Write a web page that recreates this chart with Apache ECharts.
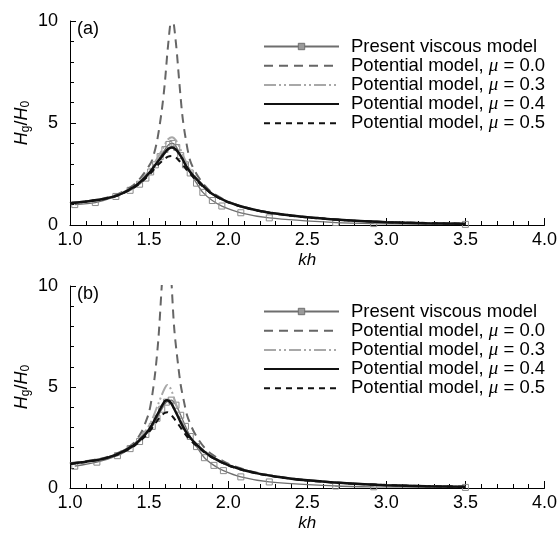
<!DOCTYPE html>
<html>
<head>
<meta charset="utf-8">
<script src="https://cdn.jsdelivr.net/npm/echarts@6/dist/echarts.min.js"></script>
<style>html,body{margin:0;padding:0;background:#fff;}#c{width:560px;height:533px;}</style>
</head>
<body>
<div id="c"></div>
<script>
// ---------- data ----------
var xTicks = [1.0, 1.5, 2.0, 2.5, 3.0, 3.5, 4.0];
var yTicks = [0, 5, 10];
var seriesNames = ['Present viscous model', 'Potential model, μ = 0.0', 'Potential model, μ = 0.3', 'Potential model, μ = 0.4', 'Potential model, μ = 0.5'];

// Panel (a)
var khA = [1.0,1.1,1.2,1.3,1.4,1.45,1.5,1.52,1.55,1.58,1.6,1.62,1.645,1.67,1.69,1.71,1.73,1.76,1.8,1.85,1.9,2.0,2.1,2.2,2.3,2.4,2.5,2.75,3.0,3.25,3.5];
var a_mu00 = [1.08,1.16,1.28,1.5,1.95,2.35,2.9,3.2,4.1,5.6,7.0,8.8,10.3,8.9,7.1,5.4,4.3,3.15,2.5,1.95,1.58,1.15,0.88,0.7,0.57,0.47,0.39,0.24,0.15,0.1,0.06];
var a_mu03 = [1.07,1.15,1.27,1.47,1.88,2.2,2.65,2.85,3.25,3.65,3.95,4.2,4.3,4.15,3.85,3.5,3.15,2.7,2.3,1.88,1.53,1.12,0.87,0.69,0.56,0.46,0.38,0.23,0.14,0.09,0.06];
var a_mu04 = [1.06,1.15,1.26,1.45,1.85,2.15,2.55,2.75,3.05,3.35,3.55,3.72,3.8,3.7,3.5,3.25,2.95,2.6,2.25,1.85,1.52,1.12,0.87,0.69,0.56,0.46,0.38,0.23,0.14,0.09,0.06];
var a_mu05 = [1.05,1.14,1.25,1.44,1.82,2.1,2.45,2.62,2.9,3.12,3.25,3.35,3.38,3.3,3.15,2.98,2.78,2.5,2.18,1.82,1.5,1.11,0.86,0.68,0.55,0.45,0.37,0.23,0.14,0.09,0.06];
var khA_visc = [1.03,1.16,1.29,1.38,1.44,1.48,1.51,1.54,1.57,1.6,1.625,1.65,1.675,1.7,1.73,1.76,1.8,1.84,1.9,1.96,2.08,2.26,2.68,2.92,3.5];
var a_visc = [1.0,1.1,1.4,1.7,2.0,2.3,2.6,2.95,3.35,3.7,3.95,4.0,3.8,3.4,2.95,2.55,2.05,1.6,1.2,0.93,0.6,0.35,0.12,0.07,0.03];

// Panel (b)
var khB = [1.0,1.1,1.2,1.3,1.4,1.45,1.48,1.5,1.52,1.54,1.56,1.58,1.6,1.615,1.63,1.643,1.66,1.685,1.7,1.72,1.74,1.77,1.8,1.85,1.9,2.0,2.1,2.2,2.3,2.4,2.5,2.75,3.0,3.25,3.5];
var b_mu00 = [1.23,1.33,1.46,1.72,2.2,2.75,3.3,3.75,4.6,5.8,7.5,10.0,12.5,13.0,12.0,10.0,7.8,6.0,5.1,4.3,3.6,3.0,2.55,2.0,1.65,1.2,0.92,0.72,0.58,0.47,0.39,0.24,0.15,0.1,0.06];
var b_mu03 = [1.21,1.31,1.44,1.7,2.15,2.55,2.85,3.1,3.4,3.8,4.2,4.6,4.95,5.1,5.0,4.8,4.4,3.8,3.45,3.05,2.75,2.42,2.18,1.83,1.55,1.15,0.9,0.71,0.57,0.47,0.38,0.23,0.15,0.09,0.06];
var b_mu04 = [1.2,1.3,1.43,1.68,2.1,2.45,2.7,2.9,3.15,3.45,3.75,4.05,4.3,4.35,4.28,4.15,3.9,3.5,3.25,2.95,2.7,2.4,2.15,1.8,1.52,1.13,0.88,0.7,0.57,0.46,0.38,0.23,0.14,0.09,0.06];
var b_mu05 = [1.19,1.29,1.42,1.66,2.05,2.38,2.6,2.78,2.98,3.2,3.42,3.6,3.72,3.75,3.7,3.6,3.42,3.15,2.98,2.75,2.55,2.3,2.08,1.76,1.5,1.12,0.87,0.69,0.56,0.46,0.37,0.23,0.14,0.09,0.06];
var khB_visc = [1.03,1.17,1.3,1.38,1.44,1.48,1.52,1.55,1.58,1.61,1.64,1.67,1.7,1.73,1.76,1.8,1.85,1.91,1.97,2.08,2.26,2.68,2.92,3.5];
var b_visc = [1.08,1.28,1.6,1.95,2.3,2.65,3.05,3.45,3.9,4.25,4.35,4.1,3.6,3.05,2.55,2.05,1.5,1.12,0.86,0.55,0.3,0.1,0.06,0.03];

// ---------- build ----------
function pairs(xs, ys) { return xs.map(function (x, i) { return [x, ys[i]]; }); }
var FONT = 'Liberation Sans, Arial, sans-serif';

var styles = [
  { color: '#6e6e6e', width: 1.3, type: 'solid', symbol: 'rect', z: 2 },
  { color: '#666666', width: 2, type: [9, 6], symbol: 'none', z: 3 },
  { color: '#a8a8a8', width: 2, type: [12, 3, 2, 3, 2, 3], symbol: 'none', z: 4 },
  { color: '#111111', width: 2.5, type: 'solid', symbol: 'none', z: 6 },
  { color: '#111111', width: 2, type: [6, 5], symbol: 'none', z: 5 }
];

function makeSeries(gi, visc, khv, m0, m3, m4, m5, kh) {
  var datas = [pairs(khv, visc), pairs(kh, m0), pairs(kh, m3), pairs(kh, m4), pairs(kh, m5)];
  return datas.map(function (d, i) {
    var s = styles[i];
    var hasSym = s.symbol !== 'none';
    return {
      type: 'line', name: seriesNames[i], xAxisIndex: gi, yAxisIndex: gi,
      data: d, smooth: 0.3, clip: true, z: s.z,
      symbol: s.symbol, symbolSize: 6, showSymbol: hasSym,
      itemStyle: hasSym ? { color: 'rgba(255,255,255,0)', borderColor: '#8a8a8a', borderWidth: 1 } : { opacity: 0 },
      lineStyle: { color: s.color, width: s.width, type: s.type },
      emphasis: { disabled: true }, animation: false
    };
  });
}

function xAxis(gi) {
  return {
    type: 'value', gridIndex: gi, min: 1, max: 4, interval: 0.5,
    name: 'kh', nameLocation: 'middle', nameGap: 27,
    nameTextStyle: { fontFamily: FONT, fontSize: 17, fontStyle: 'italic', color: '#000' },
    axisLine: { show: true, lineStyle: { color: '#000', width: 1 } },
    axisTick: { show: true, inside: true, length: 7, lineStyle: { color: '#000' } },
    minorTick: { show: true, splitNumber: 5, length: 4, lineStyle: { color: '#000' } },
    axisLabel: { fontFamily: FONT, fontSize: 18, color: '#000', margin: 6,
      formatter: function (v) { return xTicks.indexOf(+v.toFixed(1)) >= 0 ? v.toFixed(1) : ''; } },
    splitLine: { show: false }
  };
}
function yAxis(gi) {
  return {
    type: 'value', gridIndex: gi, min: 0, max: 10, interval: 5,
    name: '{i|H}{s|g}{n|/}{i|H}{s|0}', nameLocation: 'middle', nameGap: 38, nameRotate: 90,
    nameMoveOverlap: false,
    nameTextStyle: { color: '#000', fontFamily: FONT, rich: {
      i: { fontFamily: FONT, fontSize: 18, fontStyle: 'italic', color: '#000' },
      n: { fontFamily: FONT, fontSize: 18, color: '#000' },
      s: { fontFamily: FONT, fontSize: 12, color: '#000', padding: [8, 0, 0, 0] }
    } },
    axisLine: { show: true, lineStyle: { color: '#000', width: 1 } },
    axisTick: { show: true, inside: true, length: 6, lineStyle: { color: '#000' } },
    minorTick: { show: true, splitNumber: 5, length: 4, lineStyle: { color: '#000' } },
    axisLabel: { fontFamily: FONT, fontSize: 18, color: '#000', margin: 12,
      formatter: function (v) { return yTicks.indexOf(v) >= 0 ? String(v) : ''; } },
    splitLine: { show: false }
  };
}
function legend(top) {
  var data = seriesNames.map(function (n, i) {
    return i === 0
      ? { name: n, itemStyle: { color: '#9a9a9a', borderColor: '#707070', borderWidth: 1 } }
      : { name: n, itemStyle: { opacity: 0 } };
  });
  return {
    orient: 'vertical', left: 263, top: top, padding: 0, itemWidth: 75, itemHeight: 8, itemGap: 0.2,
    data: data, selectedMode: false,
    formatter: function (n) { return n.replace('μ', '{mu|μ}'); },
    textStyle: { fontFamily: FONT, fontSize: 18.5, color: '#000', lineHeight: 14, padding: [0, 0, 0, 7],
      rich: { mu: { fontFamily: 'Liberation Serif, serif', fontStyle: 'italic', fontSize: 19, color: '#000', lineHeight: 14 } } }
  };
}

var option = {
  backgroundColor: '#fff',
  animation: false,
  grid: [
    { left: 70, right: 14, top: 21, height: 204 },
    { left: 70, right: 14, top: 286, height: 203 }
  ],
  xAxis: [xAxis(0), xAxis(1)],
  yAxis: [yAxis(0), yAxis(1)],
  legend: [legend(37), legend(302)],
  graphic: [
    { type: 'text', left: 77, top: 20, style: { text: '(a)', fontFamily: FONT, fontSize: 18, fill: '#000' } },
    { type: 'text', left: 77, top: 285, style: { text: '(b)', fontFamily: FONT, fontSize: 18, fill: '#000' } }
  ],
  series: [].concat(
    makeSeries(0, a_visc, khA_visc, a_mu00, a_mu03, a_mu04, a_mu05, khA),
    makeSeries(1, b_visc, khB_visc, b_mu00, b_mu03, b_mu04, b_mu05, khB)
  )
};
var chart = echarts.init(document.getElementById('c'), null, { renderer: 'canvas' });
chart.setOption(option);
</script>
</body>
</html>
